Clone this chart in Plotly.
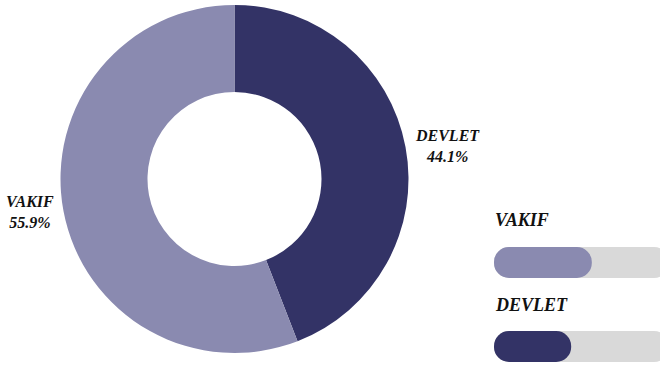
import plotly.graph_objects as go

# Shares by ownership type
categories = ["DEVLET", "VAKIF"]
shares = [44.1, 55.9]

# Progress-bar panel (top to bottom)
bar_labels = ["VAKIF", "DEVLET"]
bar_values = [55.9, 44.1]
bar_max = 100

DARK = "#333366"
LIGHT = "#8a8ab0"
TRACK = "#d9d9d9"
colour_of = {"DEVLET": DARK, "VAKIF": LIGHT}

W, H = 660, 366
FONT = dict(family="Liberation Serif, Times New Roman, serif", color="#111111",
            weight="bold", style="italic")

fig = go.Figure()

# Donut
fig.add_trace(go.Pie(
    labels=categories,
    values=shares,
    hole=0.5,
    sort=False,
    direction="clockwise",
    rotation=0,
    marker=dict(colors=[colour_of[c] for c in categories], line=dict(width=0)),
    textposition="outside",
    texttemplate="%{label}<br>%{percent:.1%}",
    textfont=dict(size=16, **FONT),
    hoverinfo="skip",
    showlegend=False,
    domain=dict(x=[60.5 / W, 408.5 / W], y=[1 - 353 / H, 1 - 5 / H]),
))

# Pill-shaped progress bars: grey track behind, coloured fill on top.
# A non-zero base makes both ends of each bar rounded.
eps = 1e-6
rows = list(range(len(bar_labels)))
fig.add_trace(go.Bar(
    x=[bar_max - eps] * len(rows), y=rows, base=[eps] * len(rows),
    orientation="h", width=0.369,
    marker=dict(color=TRACK, cornerradius=15, line=dict(width=0)),
    xaxis="x2", yaxis="y2", hoverinfo="skip", showlegend=False,
))
fig.add_trace(go.Bar(
    x=[v - eps for v in bar_values], y=rows, base=[eps] * len(rows),
    orientation="h", width=0.369,
    marker=dict(color=[colour_of[l] for l in bar_labels], cornerradius=15,
                line=dict(width=0)),
    xaxis="x2", yaxis="y2", hoverinfo="skip", showlegend=False,
))

# Bar panel captions
annotations = []
caption_y = [219.5, 305]
for lab, py in zip(bar_labels, caption_y):
    annotations.append(dict(
        text=lab, x=493 / W, y=1 - py / H, xref="paper", yref="paper",
        xanchor="left", yanchor="middle", showarrow=False,
        font=dict(size=18, **FONT),
    ))

px_per_unit = 175 / bar_max      # track is 175 px long, partly beyond the edge
row_gap = 84                     # px between bar centres
top_px, first_px = 230, 262.5

fig.update_layout(
    width=W, height=H,
    margin=dict(l=0, r=0, t=0, b=0),
    paper_bgcolor="white", plot_bgcolor="white",
    barmode="overlay",
    xaxis2=dict(domain=[494 / W, 1], range=[0, (W - 494) / px_per_unit],
                visible=False, fixedrange=True),
    yaxis2=dict(domain=[0, (H - top_px) / H],
                range=[(H - first_px) / row_gap, (top_px - first_px) / row_gap],
                visible=False, fixedrange=True),
    annotations=annotations,
)

fig.write_html("out.html")
